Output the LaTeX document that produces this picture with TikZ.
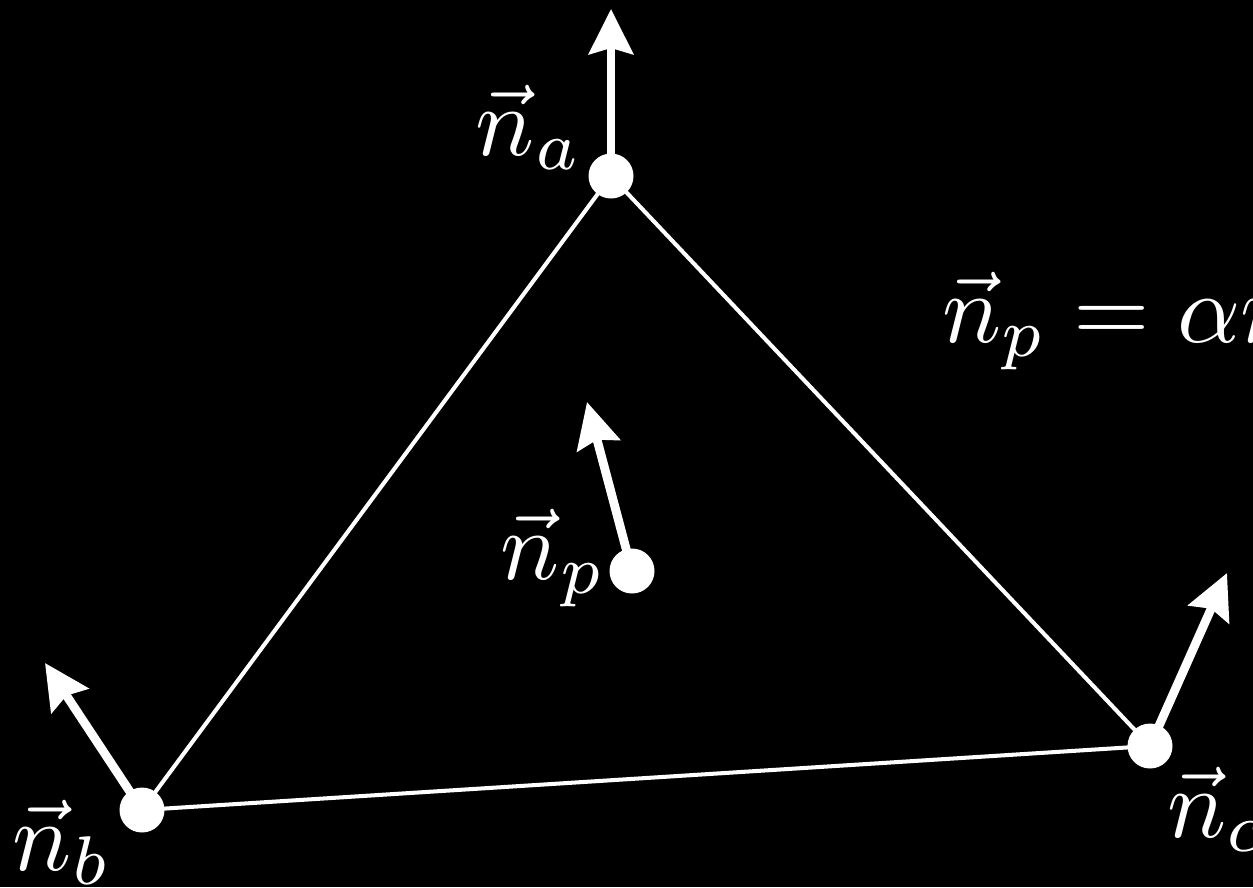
\documentclass[tikz,border=0pt]{standalone}
\usetikzlibrary{arrows.meta}
\begin{document}
\begin{tikzpicture}[x=0.02cm,y=-0.02cm,
  edge/.style={white,line width=2.3pt},
  normal/.style={white,line width=5pt,-{Stealth[length=0.9cm,width=0.88cm,inset=0.12cm]}},
  dot/.style={circle,fill=white,minimum size=0.9cm,inner sep=0pt},
  lab/.style={text=white,scale=5.6,inner sep=0pt,anchor=base west}]
\fill[black] (0,0) rectangle (1253,887);
\useasboundingbox (0,0) rectangle (1253,887);
\clip (0,0) rectangle (1253,887);
\coordinate (a) at (611,176);
\coordinate (b) at (142,810);
\coordinate (c) at (1150,746);
\coordinate (p) at (632,571);
\coordinate (ta) at (611,9);
\coordinate (tb) at (45,663);
\coordinate (tc) at (1227,573);
\coordinate (tp) at (587,402);
\draw[edge] (a) -- (b) -- (c) -- cycle;
\draw[normal] (a) -- (ta);
\draw[normal] (b) -- (tb);
\draw[normal] (c) -- (tc);
\draw[normal] (p) -- (tp);
\node[dot] (da) at (a) {};
\node[dot] (db) at (b) {};
\node[dot] (dc) at (c) {};
\node[dot] (dp) at (p) {};
\node[lab] (la) at (474,155) {$\vec n_a$};
\node[lab] (lb) at (11,870) {$\vec n_b$};
\node[lab] (lc) at (1165,837) {$\vec n_c$};
\node[lab] (lp) at (499,579) {$\vec n_p$};
\node[lab] (eq) at (940,342) {$\vec n_p = \alpha\vec n_a + \beta\vec n_b + \gamma\vec n_c$};
\end{tikzpicture}
\end{document}
